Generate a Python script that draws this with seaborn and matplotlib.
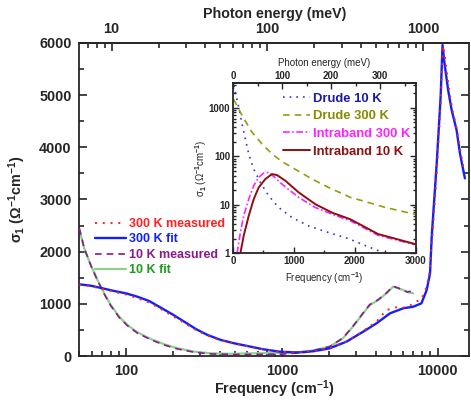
import numpy as np
import pandas as pd
import matplotlib
matplotlib.use("Agg")
import matplotlib.pyplot as plt
from matplotlib.ticker import FixedLocator, LogLocator, NullFormatter, MultipleLocator
import seaborn as sns

# ---------------- data ----------------
freq_300_fit = [50, 59.2, 70.4, 83.7, 99.4, 118, 140.5, 167, 198, 236, 280, 333, 406, 495, 587, 756,
                967, 1250, 1600, 2027, 2601, 3330, 4057, 4950, 6010, 6980, 7880, 8520, 8950, 9180,
                9880, 10470, 10770, 11100, 11700, 12320, 13250, 13930, 14990]
sig_300_fit = [1374, 1348, 1298, 1246, 1202, 1137, 1054, 926, 799, 658, 518, 403, 307, 243, 198, 130,
               83, 68, 92, 147, 275, 466, 627, 818, 914, 945, 1010, 1265, 1585, 2300,
               3694, 4971, 5960, 5600, 5099, 4716, 4333, 3886, 3406]

freq_300_meas = [50, 59.2, 70.4, 83.7, 99.4, 118, 140.5, 167, 198, 236, 280, 333, 406, 495, 587, 756,
                 967, 1250, 1600, 2027, 2601, 3330, 4057, 4700, 5190, 5580, 6010, 6600, 7260, 7880,
                 8520, 8860, 9300, 9880, 10470, 10850, 11250, 11800, 12400, 13300, 14000, 14800]
sig_300_meas = [1370, 1340, 1285, 1230, 1180, 1110, 1025, 900, 770, 635, 500, 390, 300, 238, 195, 128,
                83, 68, 94, 150, 280, 480, 660, 882, 914, 945, 926, 960, 1041, 1087,
                1329, 1585, 2350, 3500, 4850, 5950, 5650, 5150, 4750, 4350, 3950, 3550]

freq_10_fit = [50, 53.7, 59.2, 65.4, 72.2, 79.6, 90.2, 102, 118, 144, 176, 214, 274, 350, 470, 600,
               800, 1000, 1436, 2027, 2470, 2860, 3330, 3670, 4160, 4700, 5190, 5580, 6010, 6620, 6980]
sig_10_fit = [2430, 2065, 1745, 1457, 1202, 978, 753, 594, 454, 326, 224, 147, 83, 52, 42, 50,
              55, 58, 80, 178, 340, 562, 818, 978, 1073, 1202, 1329, 1298, 1265, 1213, 1202]

freq_10_meas = [50, 53.7, 59.2, 65.4, 72.2, 79.6, 90.2, 102, 118, 144, 176, 214, 274, 350, 470, 600,
                800, 1000, 1436, 2027, 2470, 2860, 3330, 3670, 4160, 4700, 5190, 5580, 6010, 6400,
                6620, 6800, 7000]
sig_10_meas = [2450, 2070, 1740, 1450, 1190, 965, 740, 580, 440, 312, 210, 135, 72, 40, 30, 30,
               32, 36, 72, 180, 345, 570, 825, 985, 1080, 1210, 1335, 1305, 1262, 1225,
               1240, 1225, 1215]

# inset
w_drude10 = [15, 38, 94, 148, 203, 258, 340, 449, 586, 751, 970, 1244, 1573, 1902, 2200, 2500]
s_drude10 = [2900, 2114, 1033, 467, 228, 112, 54.6, 29, 15.4, 8.8, 5.46, 3.67, 2.67, 2.0, 1.4, 1.0]

w_drude300 = [10, 148, 312, 477, 641, 805, 970, 1134, 1299, 1463, 1627, 1792, 1929, 2110, 2493, 2959, 3000]
s_drude300 = [1500, 697, 314, 180, 112, 78, 59, 45, 33.9, 26.7, 21, 17.1, 14.2, 12.3, 8.9, 6.5, 6.3]

w_intra300 = [66, 121, 175, 258, 340, 422, 504, 586, 668, 805, 1080, 1353, 1627, 1929, 2384, 2986]
s_intra300 = [1.0, 2.67, 5.9, 13, 24.7, 36.7, 45, 46.6, 38.5, 26.7, 14.2, 8.8, 6.4, 4.67, 2.35, 1.51]

w_intra10 = [121, 175, 258, 340, 422, 531, 641, 723, 860, 1080, 1353, 1627, 1929, 2384, 2986]
s_intra10 = [1.0, 2.28, 5.9, 13, 22.8, 33.9, 43, 41, 31.4, 18, 10.3, 6.9, 5.03, 2.5, 1.56]

main_labels = ["300 K measured", "300 K fit", "10 K measured", "10 K fit"]
inset_labels = ["Drude 10 K", "Drude 300 K", "Intraband 300 K", "Intraband 10 K"]

CM_PER_MEV = 8.0655

# ---------------- style ----------------
sns.set_style("ticks")
plt.rcParams["font.family"] = ["Liberation Sans", "DejaVu Sans"]
plt.rcParams["font.weight"] = "bold"
plt.rcParams["mathtext.fontset"] = "custom"
plt.rcParams["mathtext.rm"] = "Liberation Sans:bold"
plt.rcParams["mathtext.it"] = "Liberation Sans:bold:italic"
plt.rcParams["mathtext.bf"] = "Liberation Sans:bold"
plt.rcParams["axes.linewidth"] = 1.3

fig = plt.figure(figsize=(4.71, 4.01), dpi=100)
ax = fig.add_axes([0.1684, 0.1122, 0.8280, 0.7806])

c_red = "#ff2020"
c_blue = "#1020ff"
c_purple = "#8a1a8a"
c_green_line = "#8fd08f"
c_green_txt = "#1e9a1e"

sns.lineplot(x=freq_10_fit, y=sig_10_fit, ax=ax, color=c_green_line, lw=1.6,
             estimator=None, sort=False, label=main_labels[3], zorder=2)
sns.lineplot(x=freq_10_meas, y=sig_10_meas, ax=ax, color=c_purple, lw=1.2,
             linestyle=(0, (4, 3)), estimator=None, sort=False, label=main_labels[2], zorder=3)
sns.lineplot(x=freq_300_fit, y=sig_300_fit, ax=ax, color=c_blue, lw=1.7,
             estimator=None, sort=False, label=main_labels[1], zorder=4)
sns.lineplot(x=freq_300_meas, y=sig_300_meas, ax=ax, color=c_red, lw=1.4,
             linestyle=(0, (1, 3)), estimator=None, sort=False, label=main_labels[0], zorder=5)

ax.set_xscale("log")
ax.set_xlim(50, 16000)
ax.set_ylim(0, 6000)
ax.yaxis.set_major_locator(MultipleLocator(1000))
ax.yaxis.set_minor_locator(MultipleLocator(500))
ax.xaxis.set_major_locator(FixedLocator([100, 1000, 10000]))
ax.xaxis.set_minor_locator(LogLocator(base=10, subs=np.arange(2, 10)))
ax.xaxis.set_minor_formatter(NullFormatter())
ax.set_xticklabels(["100", "1000", "10000"])
ax.tick_params(axis="both", which="both", direction="in", labelsize=10.4, width=1.2)
ax.tick_params(axis="both", which="major", length=6)
ax.tick_params(axis="both", which="minor", length=3.5)
ax.tick_params(axis="y", which="both", right=True, pad=5.5)
ax.tick_params(axis="x", which="major", pad=6)
for t in ax.get_xticklabels() + ax.get_yticklabels():
    t.set_fontweight("bold")
ax.set_xlabel("Frequency (cm$^{-1}$)", fontsize=10.4, fontweight="bold", labelpad=0)
ax.set_ylabel("σ$_1$ (Ω$^{-1}$cm$^{-1}$)", fontsize=10.4, fontweight="bold", labelpad=8)

secx = ax.secondary_xaxis("top", functions=(lambda x: x / CM_PER_MEV, lambda x: x * CM_PER_MEV))
secx.xaxis.set_major_locator(FixedLocator([10, 100, 1000]))
secx.xaxis.set_minor_locator(LogLocator(base=10, subs=np.arange(2, 10)))
secx.xaxis.set_minor_formatter(NullFormatter())
secx.set_xticklabels(["10", "100", "1000"])
secx.tick_params(axis="x", which="both", direction="in", labelsize=10.4, width=1.2)
secx.tick_params(axis="x", which="major", length=6, pad=5)
secx.tick_params(axis="x", which="minor", length=3.5)
for t in secx.get_xticklabels():
    t.set_fontweight("bold")
secx.set_xlabel("Photon energy (meV)", fontsize=10.3, fontweight="bold", labelpad=3)

# main legend
h, l = ax.get_legend_handles_labels()
order = [l.index(s) for s in main_labels]
leg = ax.legend([h[i] for i in order], [l[i] for i in order], loc="upper left",
                bbox_to_anchor=(0.040, 0.441), frameon=False,
                handlelength=2.5, handletextpad=0.25, labelspacing=0.28,
                borderpad=0, borderaxespad=0, prop={"weight": "bold", "size": 9})
for txt, col in zip(leg.get_texts(), [c_red, c_blue, c_purple, c_green_txt]):
    txt.set_color(col)

# ---------------- inset ----------------
ax2 = fig.add_axes([0.4947, 0.3683, 0.3875, 0.4240])
ax2.set_facecolor("white")
c_d10 = "#3535d8"
c_d300 = "#9a9a10"
c_i300 = "#ff22ff"
c_i10 = "#8b1010"
sns.lineplot(x=w_drude10, y=s_drude10, ax=ax2, color=c_d10, lw=1.2,
             linestyle=(0, (1, 3)), estimator=None, sort=False, label=inset_labels[0])
sns.lineplot(x=w_drude300, y=s_drude300, ax=ax2, color=c_d300, lw=1.2,
             linestyle=(0, (4, 3)), estimator=None, sort=False, label=inset_labels[1])
sns.lineplot(x=w_intra300, y=s_intra300, ax=ax2, color=c_i300, lw=1.2,
             linestyle=(0, (4, 1.5, 1, 1.5)), estimator=None, sort=False, label=inset_labels[2])
sns.lineplot(x=w_intra10, y=s_intra10, ax=ax2, color=c_i10, lw=1.4,
             estimator=None, sort=False, label=inset_labels[3])
ax2.set_yscale("log")
ax2.set_xlim(0, 3000)
ax2.set_ylim(1, 3200)
ax2.xaxis.set_major_locator(MultipleLocator(1000))
ax2.xaxis.set_minor_locator(MultipleLocator(500))
ax2.yaxis.set_major_locator(FixedLocator([1, 10, 100, 1000]))
ax2.yaxis.set_minor_locator(LogLocator(base=10, subs=np.arange(2, 10)))
ax2.yaxis.set_minor_formatter(NullFormatter())
ax2.set_yticklabels(["1", "10", "100", "1000"])
ax2.tick_params(axis="both", which="both", direction="in", labelsize=7, width=1.0, pad=2)
ax2.tick_params(axis="both", which="major", length=4)
ax2.tick_params(axis="both", which="minor", length=2.5)
ax2.tick_params(axis="y", which="both", right=True)
for t in ax2.get_xticklabels() + ax2.get_yticklabels():
    t.set_fontweight("bold")
ax2.set_xlabel("Frequency (cm$^{-1}$)", fontsize=7, labelpad=3)
ax2.set_ylabel("σ$_1$ (Ω$^{-1}$cm$^{-1}$)", fontsize=7, labelpad=0)

sec2 = ax2.secondary_xaxis("top", functions=(lambda x: x / CM_PER_MEV, lambda x: x * CM_PER_MEV))
sec2.xaxis.set_major_locator(FixedLocator([0, 100, 200, 300]))
sec2.xaxis.set_minor_locator(MultipleLocator(50))
sec2.tick_params(axis="x", which="both", direction="in", labelsize=7, width=1.0, pad=2)
sec2.tick_params(axis="x", which="major", length=4)
sec2.tick_params(axis="x", which="minor", length=2.5)
for t in sec2.get_xticklabels():
    t.set_fontweight("bold")
sec2.set_xlabel("Photon energy (meV)", fontsize=7, labelpad=3)

leg2 = ax2.legend(loc="upper left", bbox_to_anchor=(0.272, 0.945), frameon=False,
                  handlelength=2.1, handletextpad=0.25, labelspacing=0.42,
                  borderpad=0, borderaxespad=0, prop={"weight": "bold", "size": 9.4})
for txt, col in zip(leg2.get_texts(), ["#1a1aa8", "#8a8a00", c_i300, c_i10]):
    txt.set_color(col)

fig.savefig("out.png", dpi=100)
